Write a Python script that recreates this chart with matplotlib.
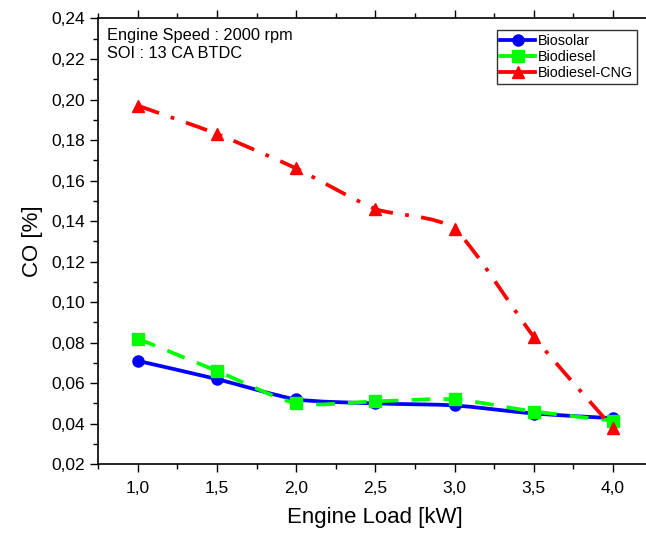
import numpy as np
import matplotlib
matplotlib.use('Agg')
import matplotlib.pyplot as plt
from matplotlib.path import Path
from matplotlib.patches import PathPatch
from matplotlib.lines import Line2D
from matplotlib.ticker import MultipleLocator, FuncFormatter

plt.rcParams['font.family'] = ['Liberation Sans', 'DejaVu Sans']

# data
load = [1.0, 1.5, 2.0, 2.5, 3.0, 3.5, 4.0]
co_biosolar = [0.071, 0.062, 0.052, 0.050, 0.049, 0.045, 0.0427]
co_biodiesel = [0.082, 0.066, 0.050, 0.051, 0.052, 0.046, 0.0415]
co_cng = [0.197, 0.183, 0.166, 0.146, 0.136, 0.083, 0.038]
names = ['Biosolar', 'Biodiesel', 'Biodiesel-CNG']


def smooth_path(x, y, k=9.0):
    # catmull-rom like segments written as cubic bezier pieces
    x = np.asarray(x, float)
    y = np.asarray(y, float)
    pts = np.column_stack([x, y])
    verts = [pts[0]]
    codes = [Path.MOVETO]
    n = len(pts)
    for i in range(n - 1):
        p0 = pts[max(i - 1, 0)]
        p1 = pts[i]
        p2 = pts[i + 1]
        p3 = pts[min(i + 2, n - 1)]
        c1 = p1 + (p2 - p0) / k
        c2 = p2 - (p3 - p1) / k
        verts += [c1, c2, p2]
        codes += [Path.CURVE4] * 3
    return Path(verts, codes)


fig = plt.figure(figsize=(6.46, 5.36), dpi=100)
ax = fig.add_axes([0.152, 0.134, 0.858, 0.8315])

styles = [
    dict(color='#0000ff', ls='-', marker='o', ms=8),
    dict(color='#00ff00', ls=(0, (5, 3.5)), marker='s', ms=8),
    dict(color='#ff0000', ls=(0, (6, 3.3, 1, 3.3)), marker='^', ms=9),
]
series = [co_biosolar, co_biodiesel, co_cng]
lw = 2.7

handles = []
for vals, st, nm in zip(series, styles, names):
    ax.plot(load, vals, ls='none', marker=st['marker'], ms=st['ms'],
            color=st['color'], zorder=3)
    patch = PathPatch(smooth_path(load, vals), facecolor='none',
                      edgecolor=st['color'], lw=lw, ls=st['ls'], zorder=2,
                      capstyle='butt')
    ax.add_patch(patch)
    handles.append(Line2D([], [], color=st['color'], lw=lw, ls='-',
                          marker=st['marker'], ms=st['ms'], label=nm))

ax.set_xlim(0.75, 4.25)
ax.set_ylim(0.02, 0.24)
ax.xaxis.set_major_locator(MultipleLocator(0.5))
ax.xaxis.set_minor_locator(MultipleLocator(0.25))
ax.yaxis.set_major_locator(MultipleLocator(0.02))
ax.yaxis.set_minor_locator(MultipleLocator(0.01))
ax.xaxis.set_major_formatter(FuncFormatter(lambda v, p: f'{v:.1f}'.replace('.', ',')))
ax.yaxis.set_major_formatter(FuncFormatter(lambda v, p: f'{v:.2f}'.replace('.', ',')))
ax.tick_params(which='both', direction='out', top=True, right=True, labelsize=12.5)
ax.tick_params(which='major', length=6, width=1)
ax.tick_params(which='minor', length=3.5, width=1)
ax.tick_params(axis='x', which='major', pad=6)
for sp in ax.spines.values():
    sp.set_linewidth(1.2)

ax.set_xlabel('Engine Load [kW]', fontsize=16, labelpad=8)
ax.set_ylabel('CO [%]', fontsize=16, labelpad=6)

ax.text(0.016, 0.978, 'Engine Speed : 2000 rpm\nSOI : 13 CA BTDC',
        transform=ax.transAxes, va='top', ha='left', fontsize=11.8,
        linespacing=1.2)

leg = ax.legend(handles=handles, loc='upper left', bbox_to_anchor=(0.719, 0.974),
                fontsize=10.4, frameon=True, fancybox=False, edgecolor='black',
                handlelength=2.4, handletextpad=0.2, borderpad=0.25,
                labelspacing=0.15, borderaxespad=0)
leg.get_frame().set_linewidth(1.0)

fig.savefig('out.png', dpi=100)
